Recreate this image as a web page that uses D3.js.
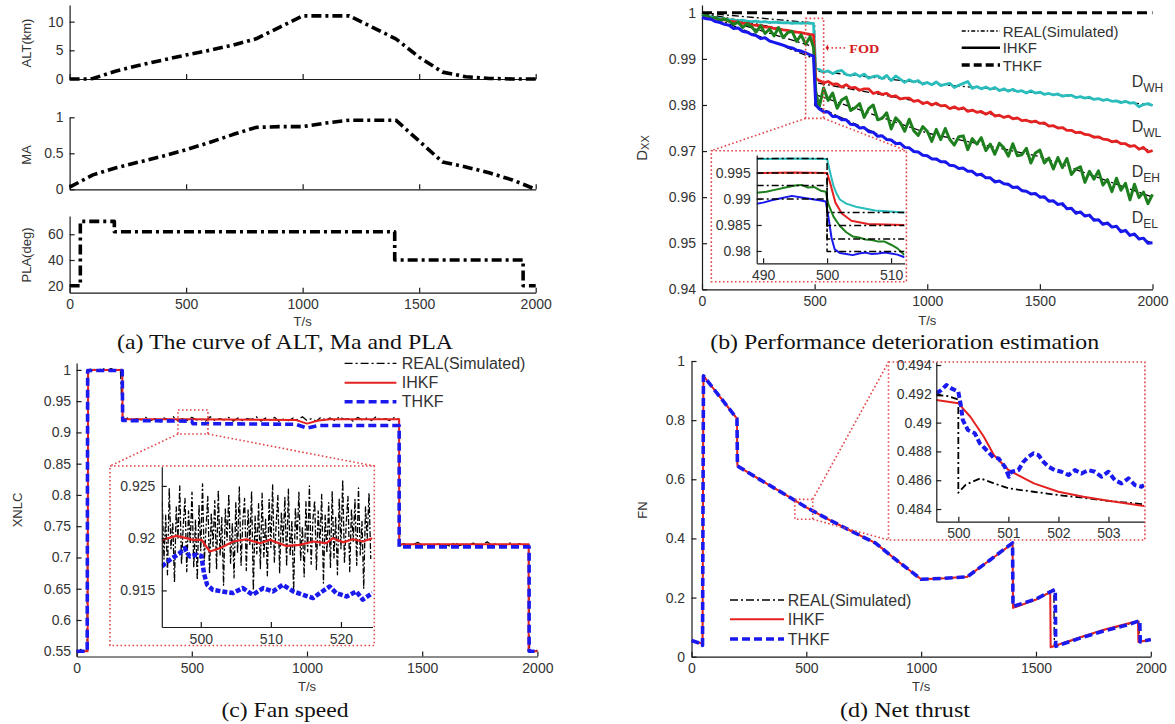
<!DOCTYPE html>
<html><head><meta charset="utf-8">
<script src="https://cdn.jsdelivr.net/npm/d3@7"></script>
<style>body{margin:0;background:#fff}svg{display:block}</style>
</head><body><svg id="chart" width="1175" height="724"></svg>
<script>
// ---------------- DATA ----------------
const TIME_TICKS = [0, 500, 1000, 1500, 2000];
const LEGEND_LABELS = ['REAL(Simulated)', 'IHKF', 'THKF'];
const CAPTIONS = ['(a) The curve of ALT, Ma and PLA', '(b) Performance deterioration estimation', '(c) Fan speed', '(d) Net thrust'];

// (a) flight envelope
const altT = [0,80,100,200,300,400,500,600,700,800,900,1000,1100,1200,1300,1400,1500,1600,1700,1800,1900,2000];
const altKm = [0,0,0.1,1.4,2.4,3.3,4.2,5.0,5.9,7.0,9.0,11,11,11,9.0,7.0,3.8,1.2,0.4,0.1,0,0];
const maT = [0,100,200,300,400,500,600,700,800,900,1000,1100,1200,1300,1400,1500,1600,1700,1800,1900,2000];
const maVal = [0.03,0.2,0.3,0.38,0.46,0.55,0.65,0.76,0.86,0.87,0.87,0.92,0.96,0.96,0.96,0.67,0.38,0.31,0.23,0.13,0];
const plaT = [0,46,46,192,192,1395,1395,1946,1946,2000];
const plaDeg = [20,20,70,70,62,62,40,40,20,20];

// (b) deterioration estimation (IHKF), samples at 0..480 step 20, 495, 505, 520..2000 step 20
const detT = [...d3.range(0,500,20), 495, 505, ...d3.range(520,2001,20)];
const dWH = [0.9996,0.9993,0.9991,0.9989,0.9988,0.9986,0.9985,0.9984,0.9983,0.9984,0.9982,0.9981,0.9982,0.9980,0.9981,0.9979,0.9980,0.9979,0.9978,0.9979,0.9977,0.9978,0.9977,0.9978,0.9977,
  0.9977,0.9880,
  0.9877,0.9871,0.9874,0.9868,0.9873,0.9875,0.9866,0.9864,0.9868,0.9862,
  0.9867,0.9858,0.9862,0.9863,0.9857,0.9864,0.9853,0.9863,0.9856,0.9849,
  0.9855,0.9850,0.9853,0.9845,0.9849,0.9844,0.9850,0.9842,0.9845,0.9847,
  0.9838,0.9843,0.9847,0.9851,0.9836,0.9840,0.9835,0.9839,0.9834,0.9838,
  0.9831,0.9835,0.9830,0.9834,0.9829,0.9831,0.9826,0.9831,0.9826,0.9828,
  0.9823,0.9825,0.9822,0.9824,0.9819,0.9821,0.9821,0.9816,0.9818,0.9815,
  0.9817,0.9812,0.9814,0.9810,0.9812,0.9808,0.9809,0.9805,0.9808,0.9804,
  0.9805,0.9796,0.9801,0.9803,0.9799];
const dWL = [0.9991,0.9990,0.9988,0.9988,0.9985,0.9985,0.9982,0.9981,0.9980,0.9977,0.9977,0.9974,0.9973,0.9972,0.9969,0.9969,0.9966,0.9965,0.9963,0.9962,0.9960,0.9958,0.9957,0.9955,0.9953,
  0.9952,0.9858,
  0.9853,0.9848,0.9851,0.9845,0.9846,0.9839,0.9844,0.9837,0.9838,0.9832,
  0.9835,0.9835,0.9825,0.9828,0.9823,0.9825,0.9818,0.9820,0.9813,0.9815,
  0.9815,0.9808,0.9810,0.9803,0.9806,0.9800,0.9804,0.9798,0.9799,0.9792,
  0.9796,0.9791,0.9794,0.9786,0.9789,0.9784,0.9786,0.9780,0.9785,0.9776,
  0.9778,0.9773,0.9776,0.9770,0.9772,0.9766,0.9767,0.9763,0.9765,0.9760,
  0.9761,0.9754,0.9755,0.9750,0.9751,0.9745,0.9745,0.9740,0.9741,0.9736,
  0.9735,0.9730,0.9731,0.9726,0.9725,0.9720,0.9722,0.9716,0.9716,0.9710,
  0.9712,0.9704,0.9708,0.9698,0.9701];
const dEH = [0.9992,0.9995,0.9988,0.9990,0.9983,0.9987,0.9982,0.9975,0.9980,0.9968,0.9976,0.9970,0.9958,0.9972,0.9955,0.9965,0.9950,0.9968,0.9946,0.9957,0.9960,0.9938,0.9952,0.9932,0.9948,
  0.9925,0.9830,
  0.9795,0.9837,0.9810,0.9826,0.9793,0.9811,0.9817,0.9788,0.9794,0.9803,
  0.9773,0.9792,0.9800,0.9768,0.9771,0.9783,0.9748,0.9772,0.9762,0.9743,
  0.9769,0.9744,0.9734,0.9753,0.9743,0.9721,0.9747,0.9725,0.9749,0.9725,
  0.9713,0.9731,0.9733,0.9703,0.9727,0.9715,0.9729,0.9701,0.9715,0.9693,
  0.9717,0.9707,0.9689,0.9716,0.9690,0.9692,0.9706,0.9674,0.9696,0.9702,
  0.9674,0.9685,0.9661,0.9686,0.9664,0.9684,0.9649,0.9661,0.9666,0.9632,
  0.9656,0.9639,0.9657,0.9626,0.9638,0.9612,0.9641,0.9615,0.9630,0.9594,
  0.9628,0.9599,0.9611,0.9586,0.9606];
const dEL = [0.9990,0.9987,0.9986,0.9981,0.9979,0.9975,0.9973,0.9966,0.9967,0.9960,0.9958,0.9953,0.9951,0.9944,0.9946,0.9939,0.9936,0.9933,0.9930,0.9926,0.9924,0.9919,0.9917,0.9913,0.9909,
  0.9906,0.9800,
  0.9792,0.9785,0.9785,0.9775,0.9775,0.9768,0.9768,0.9758,0.9757,0.9750,
  0.9751,0.9742,0.9741,0.9732,0.9733,0.9725,0.9724,0.9716,0.9717,0.9708,
  0.9707,0.9699,0.9698,0.9691,0.9690,0.9683,0.9683,0.9677,0.9677,0.9669,
  0.9668,0.9662,0.9663,0.9656,0.9656,0.9648,0.9650,0.9642,0.9642,0.9633,
  0.9635,0.9629,0.9628,0.9621,0.9622,0.9614,0.9613,0.9607,0.9608,0.9600,
  0.9601,0.9591,0.9592,0.9584,0.9586,0.9575,0.9576,0.9565,0.9568,0.9559,
  0.9561,0.9550,0.9551,0.9541,0.9544,0.9535,0.9537,0.9525,0.9528,0.9517,
  0.9520,0.9509,0.9511,0.9500,0.9501];
const realBT = [0, 500, 500, 1000, 1500, 2000];
const realWH = [1.0, 0.9978, 0.9874, 0.9847, 0.9826, 0.9800];
const realWL = [1.0, 0.9950, 0.9849, 0.9804, 0.9761, 0.9700];
const realEH = [1.0, 0.9926, 0.9823, 0.9739, 0.9688, 0.9600];
const realEL = [1.0, 0.9900, 0.9799, 0.9688, 0.9602, 0.9500];
const thkfBT = [0, 2000];
const thkfB = [1.0, 1.0];
const seriesNamesB = ['D', 'WH', 'WL', 'EH', 'EL'];
const labelLevelsB = [0.9840, 0.9742, 0.9644, 0.9543];

// (b) zoom 490-512
const zbT = [489, 500, 500, 512.1];
const zbRealWH = [0.9978,0.9978,0.9874,0.9874];
const zbRealWL = [0.9950,0.9950,0.9849,0.9849];
const zbRealEH = [0.9926,0.9926,0.9823,0.9823];
const zbRealEL = [0.9900,0.9900,0.9799,0.9799];
const zbWH_T = [489,495,500,500.5,501,501.5,502,503,504.5,507.5,512.1];
const zbWH = [0.9977,0.9978,0.9977,0.9950,0.9925,0.9910,0.9899,0.9891,0.9885,0.9878,0.9874];
const zbWL_T = [489,495,500,500.5,501.3,502.3,503.8,506.4,509,512.1];
const zbWL = [0.9950,0.9951,0.9950,0.9930,0.9893,0.9872,0.9858,0.9852,0.9851,0.9850];
const zbEH_T = [489,490.5,492,493.5,495,496,497,498,499,499.8,500.2,501,502,503,504,505,506,507,508,509,510,511,512.1];
const zbEH = [0.9912,0.9914,0.9918,0.9922,0.9926,0.9927,0.9922,0.9923,0.9916,0.9914,0.9890,0.9866,0.9848,0.9836,0.9828,0.9826,0.9822,0.9821,0.9818,0.9818,0.9812,0.9805,0.9792];
const zbEL_T = [489,490,491.5,493,494.5,496,497.5,499,499.8,500.2,500.7,501.2,502,503,504,505,506,507,508,509,510,511,512.1];
const zbEL = [0.9891,0.9893,0.9898,0.9902,0.9906,0.9903,0.9900,0.9897,0.9895,0.9866,0.9825,0.9803,0.9796,0.9794,0.9792,0.9795,0.9797,0.9794,0.9795,0.9797,0.9795,0.9793,0.9788];

// (c) fan speed
const fanRealSeg1 = [0.552,0.548,0.553,0.549,0.551,0.548];
const fanRealSeg2 = [1.0,1.002,0.998,1.003,0.999,1.002,0.998,1.001];
const fanRealSeg3 = [0.919,0.923,0.918,0.922,0.920,0.924,0.919,0.922,0.918,0.923,
  0.920,0.925,0.918,0.922,0.919,0.924,0.920,0.921,0.918,0.925,
  0.919,0.922,0.920,0.924,0.918,0.923,0.919,0.922,0.921,0.925,
  0.918,0.923,0.920,0.924,0.917,0.922,0.919,0.923,0.920,0.925,
  0.919,0.922,0.918,0.924,0.920,0.923,0.919,0.925,0.921,0.922,
  0.918,0.924,0.920,0.923,0.919,0.925,0.920,0.922,0.919,0.924,0.921];
const fanRealSeg4 = [0.719,0.722,0.718,0.721,0.724,0.719,0.722,0.718,0.723,0.720,
  0.721,0.718,0.724,0.719,0.722,0.720,0.723,0.718,0.721,0.725,
  0.719,0.722,0.718,0.721,0.723,0.719,0.722,0.720,0.721];
const fanRealSeg5 = [0.551,0.548,0.552];
const fanRealT = [...d3.range(0,46,9), ...d3.range(50,191,20), ...d3.range(200,1401,20), ...d3.range(1402,1963,20), ...d3.range(1966,2001,17)];
const fanReal = [...fanRealSeg1, ...fanRealSeg2, ...fanRealSeg3, ...fanRealSeg4, ...fanRealSeg5];
const fanIhkfT = [0,48,50,198,200,500,950,1000,1050,1100,1400,1400,1962,1962,2000];
const fanIhkf = [0.55,0.55,1.0,1.0,0.921,0.921,0.920,0.914,0.919,0.921,0.921,0.721,0.721,0.55,0.55];
const fanThkfT = [0,46,48,198,200,500,505,950,1000,1050,1100,1400,1400,1964,1964,2000];
const fanThkf = [0.55,0.55,0.999,0.999,0.919,0.918,0.914,0.913,0.907,0.911,0.911,0.911,0.717,0.717,0.55,0.55];
// (c) zoom 494-525
const zcRealT = d3.range(494.5, 524.4, 0.25);
const zcReal = [0.9235,0.9180,0.9222,0.9165,0.9248,0.9190,0.9215,0.9158,0.9230,0.9200,0.9250,0.9175,0.9212,0.9238,0.9168,0.9226,0.9195,0.9244,0.9172,0.9218,
  0.9160,0.9232,0.9188,0.9252,0.9178,0.9210,0.9240,0.9166,0.9224,0.9192,0.9236,0.9170,0.9246,0.9184,0.9220,0.9155,0.9228,0.9198,0.9242,0.9176,
  0.9214,0.9162,0.9234,0.9186,0.9249,0.9174,0.9216,0.9238,0.9169,0.9227,0.9194,0.9245,0.9150,0.9221,0.9185,0.9233,0.9171,0.9243,0.9182,0.9219,
  0.9164,0.9237,0.9191,0.9251,0.9177,0.9213,0.9241,0.9167,0.9225,0.9196,0.9239,0.9173,0.9247,0.9183,0.9217,0.9148,0.9229,0.9199,0.9244,0.9179,
  0.9211,0.9163,0.9235,0.9187,0.9250,0.9175,0.9218,0.9236,0.9170,0.9226,0.9193,0.9242,0.9157,0.9222,0.9186,0.9234,0.9172,0.9245,0.9181,0.9220,
  0.9165,0.9238,0.9190,0.9256,0.9176,0.9214,0.9240,0.9168,0.9228,0.9197,0.9237,0.9174,0.9248,0.9184,0.9216,0.9152,0.9230,0.9200,0.9243,0.9180];
const zcIhkfT = [494.43,496.56,498.93,500.12,501.3,502.73,504.63,506.53,508.43,509.85,512.23,514.13,516.02,517.92,518.87,520.3,521.7,523.1,524.5];
const zcIhkf = [0.91984,0.92022,0.91984,0.91984,0.91872,0.91904,0.91968,0.9199,0.91952,0.91984,0.91926,0.91936,0.91968,0.91952,0.92,0.9196,0.9199,0.91968,0.92];
const zcThkfT = [494.43,495.6,497.0,497.7,498.4,499.4,500.1,500.45,500.9,501.7,503.1,504.6,506.0,507.4,508.9,510.3,511.7,513.2,514.6,516.0,517.0,518.4,519.3,520.8,522.2,523.1,524.5];
const zcThkf = [0.91729,0.91793,0.91857,0.91904,0.91825,0.91841,0.9183,0.91666,0.91554,0.91506,0.9149,0.91475,0.91522,0.91458,0.91522,0.9149,0.91554,0.9149,0.91458,0.91427,0.91475,0.91538,0.91475,0.91442,0.9149,0.91411,0.91475];

// (d) net thrust
const fnRealT = [0,45,48,52,198,200,300,400,500,600,700,800,900,1000,1100,1200,1300,1398,1400,1500,1578,1580,1700,1800,1900,1948,1950,2000];
const fnReal = [0.053,0.045,0.04,0.95,0.805,0.645,0.598,0.552,0.505,0.463,0.423,0.385,0.322,0.262,0.265,0.27,0.327,0.383,0.165,0.193,0.225,0.035,0.066,0.09,0.11,0.12,0.05,0.057];
const fnIhkfT = [0,45,48,52,198,200,300,400,500,600,700,800,900,1000,1100,1200,1300,1398,1400,1500,1562,1564,1700,1800,1900,1944,1946,2000];
const fnIhkf = [0.053,0.045,0.04,0.95,0.805,0.645,0.598,0.552,0.505,0.463,0.423,0.385,0.322,0.262,0.265,0.27,0.327,0.383,0.165,0.193,0.218,0.032,0.068,0.092,0.112,0.12,0.05,0.057];
const fnThkfT = [0,45,48,52,198,200,300,400,500,600,700,800,900,1000,1100,1200,1300,1398,1400,1500,1584,1586,1700,1800,1900,1952,1954,2000];
const fnThkf = [0.055,0.043,0.038,0.95,0.805,0.645,0.598,0.552,0.505,0.463,0.423,0.385,0.322,0.262,0.265,0.27,0.327,0.385,0.17,0.195,0.228,0.035,0.065,0.088,0.108,0.122,0.05,0.058];
// (d) zoom 499.5-503.7
const zdRealT = [499.56,499.78,500.0,500.0,500.15,500.44,500.7,501.0,501.5,502.0,502.5,503.0,503.71];
const zdReal = [0.4919,0.49185,0.4916,0.48513,0.4857,0.48613,0.4858,0.48544,0.4852,0.48497,0.48478,0.48456,0.48433];
const zdIhkfT = [499.56,500.0,500.24,500.51,500.71,501.0,501.51,502.0,502.5,503.0,503.71];
const zdIhkf = [0.49157,0.49134,0.49041,0.48902,0.48775,0.48671,0.48578,0.4852,0.48485,0.48458,0.48421];
const zdThkfT = [499.56,499.66,499.76,499.86,500.0,500.05,500.09,500.19,500.33,500.43,500.56,500.7,500.8,500.93,501.01,501.06,501.2,501.3,501.4,501.5,501.6,501.7,501.8,501.93,502.06,502.2,502.33,502.46,502.6,502.73,502.86,503.0,503.13,503.26,503.4,503.53,503.66,503.71];
const zdThkf = [0.49204,0.49226,0.49261,0.49238,0.49215,0.49122,0.49018,0.48949,0.48926,0.48856,0.4881,0.48759,0.48752,0.48694,0.48624,0.48659,0.4867,0.48728,0.48763,0.48787,0.48775,0.48728,0.48694,0.4867,0.48659,0.48636,0.4867,0.48647,0.4867,0.48659,0.48624,0.48659,0.486,0.48578,0.48613,0.48566,0.48555,0.48566];

// ---------------- DRAWING ----------------
const SANS = '"Liberation Sans", Arial, sans-serif';
const SERIF = '"Liberation Serif", "Times New Roman", serif';
const AX = '#1a1a1a', TXT = '#333';
const C_CYAN = '#2bbcbc', C_RED = '#e52222', C_GREEN = '#1e7f1e', C_BLUE = '#1818ee';
const DOT = '#e0464a';
const svg = d3.select('#chart');
svg.append('rect').attr('width', 1175).attr('height', 724).attr('fill', '#fff');
const fmt = v => String(+(+v).toFixed(4));
function zip(t, v) { const n = Math.min(t.length, v.length), r = []; for (let i = 0; i < n; i++) r.push([t[i], v[i]]); return r; }

function axes(g, x, y, o) {
  const gx = g.append('g').attr('transform', `translate(0,${y.range()[0]})`)
    .call(d3.axisBottom(x).tickValues(o.xt).tickFormat(o.xl === false ? () => '' : fmt).tickSizeInner(-5).tickSizeOuter(0).tickPadding(o.xp ?? 6));
  const gy = g.append('g').attr('transform', `translate(${x.range()[0]},0)`)
    .call(d3.axisLeft(y).tickValues(o.yt).tickFormat(fmt).tickSizeInner(-5).tickSizeOuter(0).tickPadding(o.yp ?? 6));
  for (const a of [gx, gy]) {
    a.attr('font-family', SANS).attr('font-size', o.fs || 14);
    a.selectAll('text').attr('fill', TXT);
    a.select('.domain').attr('stroke', AX).attr('stroke-width', 1.2);
    a.selectAll('.tick line').attr('stroke', AX).attr('stroke-width', 1.2);
  }
}
function drawLine(g, x, y, data, st) {
  return g.append('path').datum(data).attr('fill', 'none').attr('stroke', st.c).attr('stroke-width', st.w)
    .attr('stroke-dasharray', st.d || null).attr('stroke-linejoin', 'round')
    .attr('d', d3.line().x(d => x(d[0])).y(d => y(d[1])));
}
function ylab(g, cx, cy, txt, fs) {
  g.append('text').attr('transform', `translate(${cx},${cy}) rotate(-90)`).attr('text-anchor', 'middle')
    .attr('dominant-baseline', 'central').attr('font-family', SANS).attr('font-size', fs || 13).attr('fill', TXT).text(txt);
}
function xlab(g, cx, cy) {
  g.append('text').attr('x', cx).attr('y', cy).attr('text-anchor', 'middle').attr('dominant-baseline', 'central')
    .attr('font-family', SANS).attr('font-size', 13).attr('fill', TXT).text('T/s');
}
function caption(cx, base, txt, w) {
  svg.append('text').attr('x', cx).attr('y', base).attr('text-anchor', 'middle').attr('font-family', SERIF)
    .attr('font-size', 22).attr('fill', '#111').attr('textLength', w).attr('lengthAdjust', 'spacingAndGlyphs').text(txt);
}
function dotted(g, x1, y1, x2, y2) {
  g.append('line').attr('x1', x1).attr('y1', y1).attr('x2', x2).attr('y2', y2).attr('stroke', DOT)
    .attr('stroke-width', 1.6).attr('stroke-dasharray', '1.6,2.4');
}
function dottedRect(g, x1, y1, x2, y2, fill) {
  g.append('rect').attr('x', x1).attr('y', y1).attr('width', x2 - x1).attr('height', y2 - y1)
    .attr('fill', fill || 'none').attr('stroke', DOT).attr('stroke-width', 1.6).attr('stroke-dasharray', '1.6,2.4');
}
function legend(g, x0, x1, tx, ys, styles, fs) {
  LEGEND_LABELS.forEach((lab, i) => {
    const s = styles[i];
    g.append('line').attr('x1', x0).attr('x2', x1).attr('y1', ys[i]).attr('y2', ys[i]).attr('stroke', s.c)
      .attr('stroke-width', s.w).attr('stroke-dasharray', s.d || null);
    g.append('text').attr('x', tx).attr('y', ys[i]).attr('dominant-baseline', 'central').attr('font-family', SANS)
      .attr('font-size', fs).attr('fill', TXT).text(lab);
  });
}
let clipId = 0;
function clipped(g, x, y) {
  const id = 'clip' + (clipId++);
  svg.append('clipPath').attr('id', id).append('rect').attr('x', x.range()[0]).attr('y', y.range()[1])
    .attr('width', x.range()[1] - x.range()[0]).attr('height', y.range()[0] - y.range()[1]);
  return g.append('g').attr('clip-path', `url(#${id})`);
}

// ===== (a) =====
const gA = svg.append('g');
const xA = d3.scaleLinear([0, 2000], [69.6, 535.7]);
const yAlt = d3.scaleLinear([0, 12.9], [79, 5]);
const yMa = d3.scaleLinear([0, 1], [189.3, 117.3]);
const yPla = d3.scaleLinear([14.6, 74.2], [292.7, 216]);
axes(gA, xA, yAlt, { xt: TIME_TICKS, xl: false, yt: [0, 5, 10], yp: 6 });
axes(gA, xA, yMa, { xt: TIME_TICKS, xl: false, yt: [0, 0.5, 1], yp: 6 });
axes(gA, xA, yPla, { xt: TIME_TICKS, yt: [20, 40, 60], xp: 6, yp: 6 });
const styA = { c: '#000', w: 3.6, d: '10,4,3,4' };
drawLine(gA, xA, yAlt, zip(altT, altKm), styA);
drawLine(gA, xA, yMa, zip(maT, maVal), styA);
drawLine(gA, xA, yPla, zip(plaT, plaDeg), styA);
ylab(gA, 26.8, 43, 'ALT(km)');
ylab(gA, 26.8, 155, 'MA');
ylab(gA, 26.8, 255, 'PLA(deg)');
xlab(gA, xA(1000), 321);
caption(285, 349, CAPTIONS[0], 336);

// ===== (b) =====
const gB = svg.append('g');
const xB = d3.scaleLinear([0, 2000], [702, 1152.5]);
const yB = d3.scaleLinear([0.94, 1.0017], [289.3, 5]);
axes(gB, xB, yB, { xt: TIME_TICKS, yt: [0.94, 0.95, 0.96, 0.97, 0.98, 0.99, 1], xp: 7, yp: 6 });
const styReal = { c: '#000', w: 1.3, d: '7,3,2,3' };
[realWH, realWL, realEH, realEL].forEach(v => drawLine(gB, xB, yB, zip(realBT, v), styReal));
drawLine(gB, xB, yB, zip(detT, dWH), { c: C_CYAN, w: 2.8 });
drawLine(gB, xB, yB, zip(detT, dWL), { c: C_RED, w: 2.8 });
drawLine(gB, xB, yB, zip(detT, dEH), { c: C_GREEN, w: 3 });
drawLine(gB, xB, yB, zip(detT, dEL), { c: C_BLUE, w: 3 });
drawLine(gB, xB, yB, zip(thkfBT, thkfB), { c: '#000', w: 3, d: '10,5' });
{
  const t = gB.append('text').attr('transform', 'translate(641,148) rotate(-90)').attr('text-anchor', 'middle')
    .attr('dominant-baseline', 'central').attr('font-family', SANS).attr('font-size', 15).attr('fill', TXT);
  t.append('tspan').text(seriesNamesB[0]);
  t.append('tspan').attr('font-size', 11).attr('dy', 4).text('XX');
}
seriesNamesB.slice(1).forEach((s, i) => {
  const t = gB.append('text').attr('x', 1131.7).attr('y', yB(labelLevelsB[i])).attr('font-family', SANS).attr('font-size', 16).attr('fill', TXT);
  t.append('tspan').text(seriesNamesB[0]);
  t.append('tspan').attr('font-size', 12).attr('dy', 5).text(s);
});
legend(gB, 961.7, 1000, 1002.7, [31, 47.7, 65],
  [{ c: '#000', w: 1.5, d: '4,2,1.5,2' }, { c: '#000', w: 2.5 }, { c: '#000', w: 3.5, d: '8,4' }], 15);
{
  const fy = yB(0.9924);
  dotted(gB, xB(557), fy, xB(645), fy);
  gB.append('path').attr('d', `M${xB(548)},${fy}L${xB(560)},${fy - 3.5}L${xB(560)},${fy + 3.5}Z`).attr('fill', '#d42020');
  gB.append('text').attr('x', xB(654)).attr('y', fy + 5).attr('font-family', SERIF).attr('font-weight', 'bold')
    .attr('font-size', 13).attr('fill', '#d42020').attr('textLength', 30).attr('lengthAdjust', 'spacingAndGlyphs').text('FOD');
}
const zoomB = { t0: 460, t1: 540, v0: 0.9771, v1: 0.9988 };
dottedRect(gB, xB(zoomB.t0), yB(zoomB.v1), xB(zoomB.t1), yB(zoomB.v0));
const insB = { x1: 711.3, y1: 150.7, x2: 906.4, y2: 281.7 };
dotted(gB, xB(zoomB.t0), yB(zoomB.v0), insB.x1, insB.y1);
dotted(gB, xB(zoomB.t1), yB(zoomB.v0), insB.x2, insB.y1);
dottedRect(gB, insB.x1, insB.y1, insB.x2, insB.y2, '#fff');
const xBi = d3.scaleLinear([489, 512.1], [756.7, 904.5]);
const yBi = d3.scaleLinear([0.97763, 0.99846], [263.3, 155]);
{
  const c = clipped(gB, xBi, yBi);
  drawLine(c, xBi, yBi, zip(zbWH_T, zbWH), { c: C_CYAN, w: 2 });
  drawLine(c, xBi, yBi, zip(zbWL_T, zbWL), { c: C_RED, w: 2 });
  drawLine(c, xBi, yBi, zip(zbEH_T, zbEH), { c: C_GREEN, w: 2 });
  drawLine(c, xBi, yBi, zip(zbEL_T, zbEL), { c: C_BLUE, w: 2 });
  [zbRealWH, zbRealWL, zbRealEH, zbRealEL].forEach(v => drawLine(c, xBi, yBi, zip(zbT, v), { c: '#000', w: 1.5, d: '7,3,2,3' }));
}
axes(gB, xBi, yBi, { xt: [490, 500, 510], yt: [0.98, 0.985, 0.99, 0.995], xp: 6.5, yp: 6 });
xlab(gB, xB(1000), 320);
caption(904.7, 349, CAPTIONS[1], 389);

// ===== (c) =====
const gC = svg.append('g');
const xC = d3.scaleLinear([0, 2000], [76.6, 537.4]);
const yC = d3.scaleLinear([0.5416, 1.011], [656.5, 363]);
axes(gC, xC, yC, { xt: TIME_TICKS, yt: [0.55, 0.6, 0.65, 0.7, 0.75, 0.8, 0.85, 0.9, 0.95, 1], xp: 7, yp: 5.5 });
const styRealC = { c: '#000', w: 1.3, d: '8,3,2,3' };
const styIhkf = { c: C_RED, w: 2 };
const styThkf = { c: '#1a1aee', w: 3.6, d: '8,4' };
drawLine(gC, xC, yC, zip(fanRealT, fanReal), styRealC);
drawLine(gC, xC, yC, zip(fanIhkfT, fanIhkf), styIhkf);
drawLine(gC, xC, yC, zip(fanThkfT, fanThkf), styThkf);
ylab(gC, 17.9, 510, 'XNLC');
legend(gC, 344.6, 396.4, 401.8, [363.3, 382.7, 401.7], [{ c: '#000', w: 1.3, d: '8,3,2,3' }, { c: C_RED, w: 2 }, { c: '#1a1aee', w: 3.6, d: '8,4' }], 16);
const zoomC = { t0: 440, t1: 570, v0: 0.8975, v1: 0.9358 };
dottedRect(gC, xC(zoomC.t0), yC(zoomC.v1), xC(zoomC.t1), yC(zoomC.v0));
const insC = { x1: 110, y1: 466, x2: 374.3, y2: 645.5 };
dotted(gC, xC(zoomC.t0), yC(zoomC.v0), insC.x1, insC.y1);
dotted(gC, xC(zoomC.t1), yC(zoomC.v0), insC.x2, insC.y1);
dottedRect(gC, insC.x1, insC.y1, insC.x2, insC.y2, '#fff');
const xCi = d3.scaleLinear([494.44, 524.5], [161.8, 372.5]);
const yCi = d3.scaleLinear([0.9115, 0.92684], [627, 466.7]);
{
  const c = clipped(gC, xCi, yCi);
  drawLine(c, xCi, yCi, zip(zcRealT, zcReal), { c: '#000', w: 1.3, d: '6,2,2,2' });
  drawLine(c, xCi, yCi, zip(zcIhkfT, zcIhkf), { c: C_RED, w: 2.2 });
  drawLine(c, xCi, yCi, zip(zcThkfT, zcThkf), { c: '#1a1aee', w: 4.5, d: '5,2' });
}
axes(gC, xCi, yCi, { xt: [500, 510, 520], yt: [0.915, 0.92, 0.925], xp: 7, yp: 6.5 });
xlab(gC, xC(1000), 686.7);
caption(285, 716.7, CAPTIONS[2], 127);

// ===== (d) =====
const gD = svg.append('g');
const xD = d3.scaleLinear([0, 2000], [691.5, 1150.8]);
const yD = d3.scaleLinear([0, 1], [656.7, 361]);
axes(gD, xD, yD, { xt: TIME_TICKS, yt: [0, 0.2, 0.4, 0.6, 0.8, 1], xp: 6.5, yp: 6.4 });
drawLine(gD, xD, yD, zip(fnRealT, fnReal), styRealC);
drawLine(gD, xD, yD, zip(fnIhkfT, fnIhkf), styIhkf);
drawLine(gD, xD, yD, zip(fnThkfT, fnThkf), styThkf);
ylab(gD, 642.2, 510, 'FN');
legend(gD, 730, 784, 787.8, [600, 619.3, 639], [{ c: '#000', w: 1.3, d: '8,3,2,3' }, { c: C_RED, w: 2 }, { c: '#1a1aee', w: 3.6, d: '8,4' }], 16);
const zoomD = { t0: 450, t1: 528, v0: 0.465, v1: 0.532 };
dottedRect(gD, xD(zoomD.t0), yD(zoomD.v1), xD(zoomD.t1), yD(zoomD.v0));
const insD = { x1: 888.5, y1: 362, x2: 1144.9, y2: 540 };
dotted(gD, xD(zoomD.t1), yD(zoomD.v1), insD.x1, insD.y1);
dotted(gD, xD(zoomD.t1), yD(zoomD.v0), insD.x1, insD.y2);
dottedRect(gD, insD.x1, insD.y1, insD.x2, insD.y2, '#fff');
const xDi = d3.scaleLinear([499.56, 503.71], [936.3, 1144]);
const yDi = d3.scaleLinear([0.48312, 0.49421], [521.7, 362]);
{
  const c = clipped(gD, xDi, yDi);
  drawLine(c, xDi, yDi, zip(zdRealT, zdReal), { c: '#000', w: 1.8, d: '7,3,2,3' });
  drawLine(c, xDi, yDi, zip(zdIhkfT, zdIhkf), { c: C_RED, w: 2 });
  drawLine(c, xDi, yDi, zip(zdThkfT, zdThkf), { c: '#1a1aee', w: 4, d: '6,3' });
}
axes(gD, xDi, yDi, { xt: [500, 501, 502, 503], yt: [0.484, 0.486, 0.488, 0.49, 0.492, 0.494], xp: 6.3, yp: 4.6 });
xlab(gD, xD(1000), 686.7);
caption(905, 716.7, CAPTIONS[3], 130);
</script></body></html>
